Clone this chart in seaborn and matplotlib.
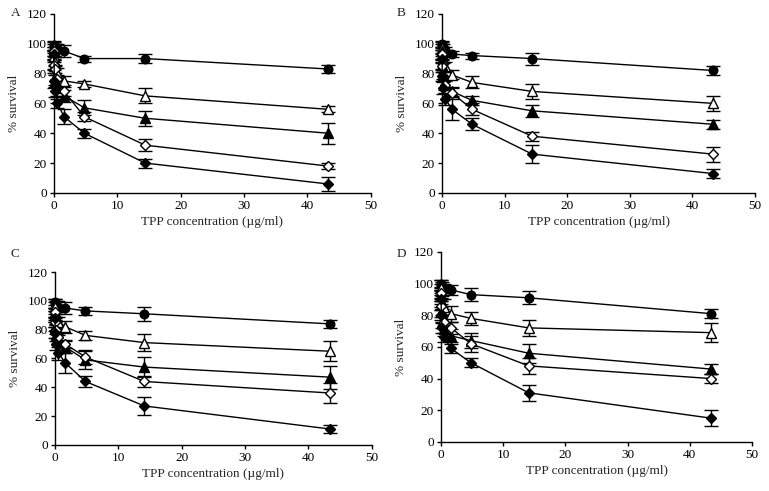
import numpy as np
import pandas as pd
import matplotlib
matplotlib.use("Agg")
import matplotlib.pyplot as plt
import seaborn as sns

# TPP concentrations (ug/ml), tripling dilutions
conc_ab = [0, 0.06, 0.18, 0.53, 1.6, 4.8, 14.4, 43.3]
conc_cd = [0, 0.06, 0.18, 0.53, 1.6, 4.8, 14.1, 43.4]

series = ["filled circle", "open triangle", "filled triangle", "open diamond", "filled diamond"]

# % survival per panel, one list per series (same order as `series`)
surv_a = [
    [99, 98, 98, 97, 95, 90, 90, 83],
    [97, 92, 88, 80, 75, 73, 65, 56],
    [95, 85, 75, 70, 65, 57, 50, 40],
    [95, 86, 83, 76, 68, 51, 32, 18],
    [93, 75, 68, 60, 51, 40, 20, 6],
]
err_a = [
    [3, 3, 2, 3, 4, 2, 3, 3],
    [3, 3, 3, 4, 3, 2, 5, 2],
    [3, 3, 4, 5, 4, 5, 5, 7],
    [3, 3, 3, 3, 3, 3, 4, 2],
    [3, 5, 4, 3, 5, 3, 3, 5],
]
surv_b = [
    [100, 99, 98, 96, 93, 92, 90, 82],
    [97, 93, 90, 85, 79, 74, 68, 60],
    [95, 86, 79, 73, 68, 62, 55, 46],
    [93, 85, 78, 72, 67, 56, 38, 26],
    [90, 78, 70, 63, 56, 46, 26, 13],
]
err_b = [
    [2, 2, 2, 2, 2, 2, 4, 3],
    [3, 3, 3, 3, 3, 4, 5, 5],
    [3, 3, 3, 3, 3, 3, 4, 3],
    [3, 3, 3, 3, 3, 4, 3, 5],
    [3, 3, 4, 4, 7, 4, 6, 3],
]
surv_c = [
    [99, 98, 97, 96, 95, 93, 91, 84],
    [96, 92, 88, 85, 82, 76, 71, 65],
    [90, 82, 76, 72, 68, 59, 54, 47],
    [92, 85, 80, 75, 70, 61, 44, 36],
    [88, 78, 70, 64, 57, 44, 27, 11],
]
err_c = [
    [2, 3, 3, 4, 4, 3, 5, 3],
    [3, 3, 4, 4, 4, 3, 6, 7],
    [3, 3, 4, 4, 4, 6, 7, 8],
    [3, 3, 3, 3, 3, 5, 4, 7],
    [3, 4, 4, 5, 7, 4, 6, 3],
]
surv_d = [
    [100, 99, 98, 97, 96, 93, 91, 81],
    [97, 93, 88, 85, 81, 78, 72, 69],
    [92, 82, 76, 71, 67, 64, 56, 46],
    [94, 86, 80, 76, 72, 62, 48, 40],
    [90, 80, 72, 66, 59, 50, 31, 15],
]
err_d = [
    [2, 3, 3, 3, 3, 4, 4, 3],
    [3, 3, 4, 5, 5, 4, 5, 6],
    [3, 3, 4, 4, 4, 5, 6, 3],
    [3, 3, 4, 4, 4, 5, 5, 3],
    [3, 3, 3, 3, 3, 3, 5, 5],
]

panels = [("A", conc_ab, surv_a, err_a), ("B", conc_ab, surv_b, err_b),
          ("C", conc_cd, surv_c, err_c), ("D", conc_cd, surv_d, err_d)]

markers = ["o", "^", "^", "D", "D"]
faces = ["black", "white", "black", "white", "black"]
sizes = [6.2, 7, 7, 5.5, 5.5]

sns.set_theme(style="ticks")
plt.rcParams["font.family"] = ["Liberation Serif", "DejaVu Serif"]

fig = plt.figure(figsize=(7.69, 4.91), dpi=100)
boxes = [
    [0.0702, 0.607, 0.412, 0.365],
    [0.5748, 0.607, 0.407, 0.365],
    [0.0715, 0.094, 0.412, 0.352],
    [0.5735, 0.100, 0.4044, 0.387],
]
label_pos = [(0.014, 0.985), (0.516, 0.985), (0.014, 0.495), (0.516, 0.495)]

for (name, conc, surv, err), box, lp in zip(panels, boxes, label_pos):
    ax = fig.add_axes(box)
    rows = []
    for s, vals, es in zip(series, surv, err):
        for c, v, e in zip(conc, vals, es):
            rows.append({"conc": c, "survival": v, "err": e, "series": s})
    df = pd.DataFrame(rows)
    for i, s in enumerate(series):
        d = df[df["series"] == s]
        ax.errorbar(d["conc"], d["survival"], yerr=d["err"], fmt="none",
                    ecolor="black", elinewidth=1, capsize=5, capthick=1,
                    zorder=2, clip_on=False)
        sns.lineplot(data=d, x="conc", y="survival", ax=ax, color="black",
                     linewidth=1, marker=markers[i], markersize=sizes[i],
                     markerfacecolor=faces[i], markeredgecolor="black",
                     markeredgewidth=1, zorder=3, clip_on=False)
    ax.set_xlim(0, 50)
    ax.set_ylim(0, 120)
    ax.set_xticks(range(0, 51, 10))
    ax.set_yticks(range(0, 121, 20))
    ax.tick_params(labelsize=9.5, length=3, width=1, colors="black", pad=2)
    for sp in ["left", "bottom"]:
        ax.spines[sp].set_color("black")
        ax.spines[sp].set_linewidth(1)
    sns.despine(ax=ax)
    ax.set_xlabel("TPP concentration (µg/ml)", fontsize=9.5, labelpad=3)
    ax.set_ylabel("% survival", fontsize=9.5, labelpad=5)
    fig.text(lp[0], lp[1], name, fontsize=9.5, va="top", ha="left")

fig.savefig("out.png", dpi=100)
